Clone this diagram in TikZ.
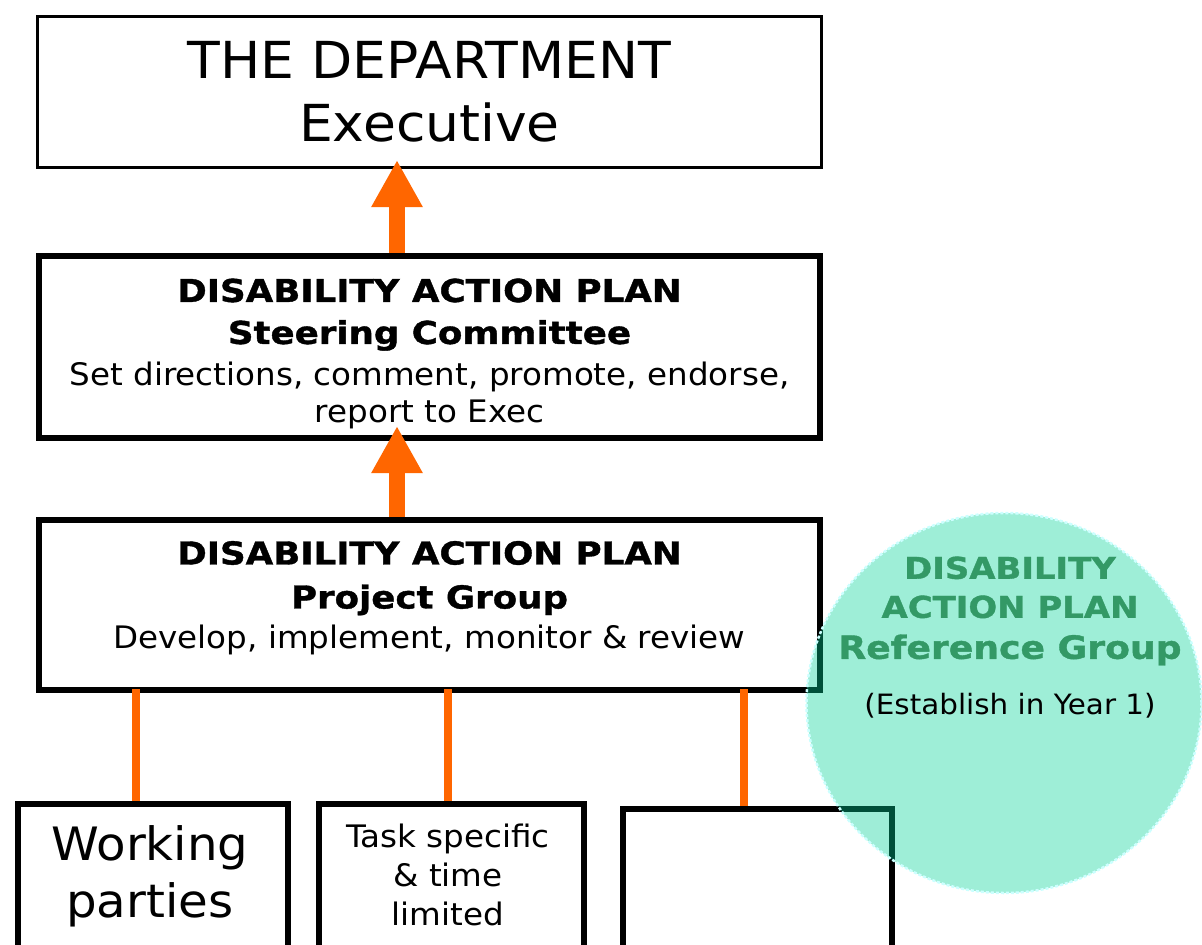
\documentclass[tikz,border=0pt]{standalone}
\usepackage{fontspec}
\setmainfont{DejaVu Sans}[FakeStretch=1.05,BoldFeatures={FakeStretch=1.13,FakeBold=1.2}]
\usetikzlibrary{arrows.meta,shapes.geometric}
\definecolor{orng}{RGB}{255,102,0}
\definecolor{teal}{RGB}{0,210,150}
\definecolor{grntxt}{RGB}{51,153,102}
\definecolor{rim}{RGB}{204,255,255}
\tikzset{
  thinbox/.style={draw=black,line width=3pt,fill=white,inner sep=0pt},
  thickbox/.style={draw=black,line width=6pt,fill=white,inner sep=0pt},
  boxtext/.style={align=center,inner sep=0pt},
  bigarrow/.style={draw=orng,line width=16pt,-{Triangle[width=48pt,length=47pt]}},
  link/.style={draw=orng,line width=8pt},
  refgroup/.style={ellipse,fill=teal,fill opacity=0.38,draw=rim,line width=2.5pt,dash pattern=on 3pt off 2pt,inner sep=0pt}
}
\begin{document}
\begin{tikzpicture}[x=1pt,y=-1pt]
\useasboundingbox (0,0) rectangle (1202,945);
\clip (0,0) rectangle (1202,945);
% boxes
\node[thinbox,minimum width=784pt,minimum height=151pt] (exec) at (429.5,92) {};
\node[thickbox,minimum width=781pt,minimum height=182pt] (steer) at (429.5,347) {};
\node[thickbox,minimum width=781pt,minimum height=170pt] (proj) at (429.5,605) {};
\node[thickbox,minimum width=270pt,minimum height=170pt,anchor=north west] (work) at (15,801) {};
\node[thickbox,minimum width=265pt,minimum height=170pt,anchor=north west] (task) at (316,801) {};
\node[thickbox,minimum width=269pt,minimum height=170pt,anchor=north west] (third) at (620,806) {};
% texts
\node[boxtext,font=\fontsize{51}{63}\selectfont] (exectxt) at (exec.center) {THE DEPARTMENT\\Executive};
\node[boxtext,font=\fontsize{31.5}{42}\selectfont] (steertxt) at ([yshift=-7pt]steer.center)
  {\bfseries DISABILITY ACTION PLAN\\
   \bfseries Steering Committee\\
   \fontsize{31}{42}\selectfont Set directions, comment, promote, endorse,\\[-5pt]
   \fontsize{31}{42}\selectfont report to Exec};
\node[boxtext,font=\fontsize{31.5}{44}\selectfont] (projtxt) at ([yshift=7pt]proj.center)
  {\bfseries DISABILITY ACTION PLAN\\
   \bfseries Project Group\\[-4pt]
   \fontsize{31}{40}\selectfont Develop, implement, monitor \& review};
\node[boxtext,font=\fontsize{46}{57}\selectfont] (worktxt) at (150,876) {Working\\parties};
\node[boxtext,font=\fontsize{31}{39}\selectfont] (tasktxt) at (448,875) {Task specific\\\& time\\limited};
% connectors
\draw[bigarrow] ([xshift=-32.5pt]steer.north) -- ([xshift=-32.5pt,yshift=9pt]exec.south);
\draw[bigarrow] ([xshift=-32.5pt]proj.north) -- ([xshift=-32.5pt,yshift=15pt]steer.south);
\draw[link] (proj.south -| work.north) ++(-17,-4) coordinate (l1) -- (l1 |- work.north);
\draw[link] (proj.south -| task.north) ++(-3.5,-4) coordinate (l2) -- (l2 |- task.north);
\draw[link] (proj.south -| third.north) ++(-13.5,-4) coordinate (l3) -- (l3 |- third.north);
% reference group
\node[refgroup,minimum width=395pt,minimum height=380pt] (ref) at (1004,703) {};
\node[boxtext,text=grntxt,font=\fontsize{30}{39}\selectfont\bfseries] (reftxt) at (1010,611)
  {DISABILITY\\
   ACTION PLAN\\[2pt]
   \fontsize{32}{43}\selectfont Reference Group};
\node[boxtext,font=\fontsize{28}{30}\selectfont] (reftxt2) at (1010,706) {(Establish in Year 1)};
\end{tikzpicture}
\end{document}
